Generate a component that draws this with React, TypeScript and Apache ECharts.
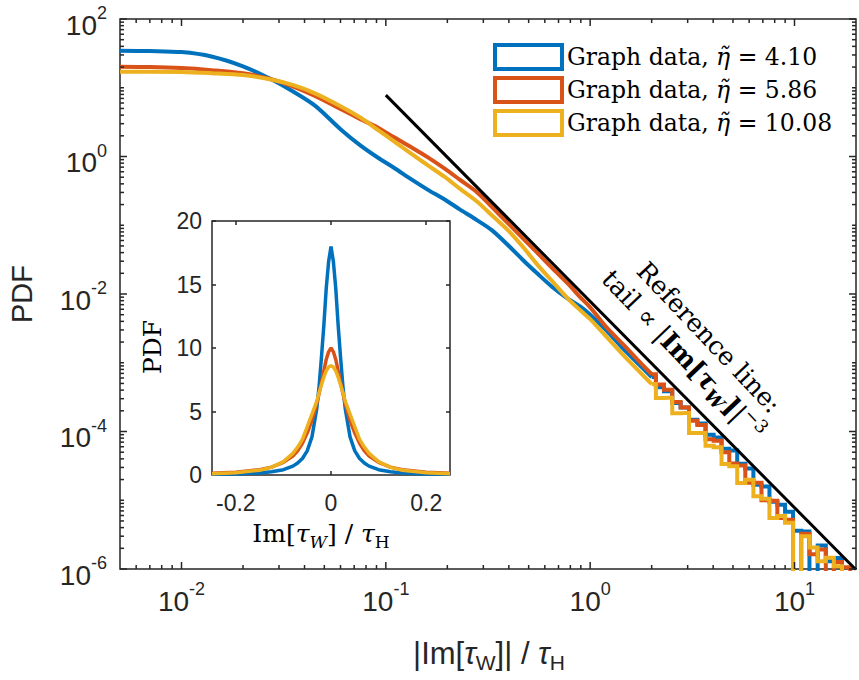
import React, { useEffect, useRef } from 'react';
import * as echarts from 'echarts';

const INK = '#262626';
const COLORS = ['#0072BD', '#D95319', '#EDB120'];
const SANS = 'Liberation Sans, Arial, sans-serif';
const SERIF = 'DejaVu Serif, Liberation Serif, serif';

const NAMES = ['Graph data, η̃ = 4.10', 'Graph data, η̃ = 5.86', 'Graph data, η̃ = 10.08'];

// |Im[tau_W]|/tau_H — smooth body of the histograms
const bodyX = [0.005, 0.007, 0.01, 0.014, 0.02, 0.027, 0.035, 0.045, 0.06, 0.075, 0.092, 0.11, 0.134, 0.16, 0.195, 0.23, 0.28, 0.33, 0.4, 0.47, 0.55, 0.65, 0.78, 0.9, 1.0, 1.2, 1.45, 1.7, 2.0];
const bodyBlue = [34.6, 34.2, 33.0, 28.5, 20.5, 13.6, 8.9, 5.5, 2.5, 1.45, 0.95, 0.68, 0.46, 0.33, 0.235, 0.17, 0.118, 0.085, 0.05, 0.031, 0.02, 0.0128, 0.0085, 0.0065, 0.005, 2.95e-3, 1.6e-3, 1.0e-3, 6.2e-4];
const bodyRed = [20.2, 20.0, 19.3, 18.0, 16.2, 13.5, 10.5, 7.6, 4.9, 3.5, 2.6, 1.9, 1.35, 0.98, 0.66, 0.46, 0.3, 0.185, 0.104, 0.064, 0.04, 0.024, 0.014, 0.0088, 0.0064, 3.3e-3, 1.85e-3, 1.12e-3, 6.8e-4];
const bodyYellow = [17.1, 17.1, 17.0, 16.3, 15.3, 13.3, 11.0, 8.3, 5.4, 3.7, 2.4, 1.65, 1.08, 0.75, 0.5, 0.34, 0.22, 0.14, 0.082, 0.048, 0.027, 0.0155, 0.0085, 0.0057, 0.0043, 2.4e-3, 1.3e-3, 8.0e-4, 4.9e-4];

// noisy power-law tail, one value per histogram bin (EMPTY = bin without counts)
const EMPTY = 1e-8;
const tailX = [2.0, 2.2, 2.4, 2.65, 2.9, 3.2, 3.5, 3.85, 4.2, 4.6, 5.0, 5.5, 6.0, 6.6, 7.2, 7.9, 8.6, 9.4, 10.3, 11.3, 12.4, 13.6, 14.9, 16.3, 17.9, 19.6];
const tailBlue = [6.2e-4, 4.4e-4, 3.84e-4, 2.6e-4, 2.24e-4, 1.48e-4, 1.31e-4, 9.0e-5, 8.2e-5, 5.6e-5, 5.3e-5, 3.4e-5, 2.9e-5, 1.68e-5, 1.59e-5, 9.5e-6, 8.6e-6, 6.8e-6, 3.6e-6, 3.5e-6, EMPTY, 2.2e-6, 1.3e-6, 1.44e-6, EMPTY, EMPTY];
const tailRed = [6.8e-4, 4.84e-4, 4.06e-4, 2.68e-4, 2.24e-4, 1.43e-4, 1.24e-4, 7.7e-5, 7.35e-5, 5.0e-5, 3.43e-5, 3.19e-5, 1.8e-5, 1.79e-5, 1.0e-5, 9.8e-6, 5.5e-6, 5.2e-6, EMPTY, 3.25e-6, 1.64e-6, 1.92e-6, EMPTY, 1.26e-6, 1.06e-6, EMPTY];
const tailYellow = [4.9e-4, 3.08e-4, 3.1e-4, 1.84e-4, 1.86e-4, 9.5e-5, 9.5e-5, 6.2e-5, 5.9e-5, 3.36e-5, 3.12e-5, 1.78e-5, 1.99e-5, 1.14e-5, 1.05e-5, 5.5e-6, 5.9e-6, 4.7e-6, EMPTY, 3.0e-6, 2.05e-6, 1.3e-6, 1.46e-6, 1.1e-6, EMPTY];

// reference power law  C * |x|^-3
const REF_C = 0.0078;
const REF_X = [0.1, 20];

// inset: signed Im[tau_W]/tau_H
const insetX = [-0.25, -0.2, -0.15, -0.125, -0.1, -0.08, -0.07, -0.06, -0.05, -0.04, -0.03, -0.025, -0.02, -0.015, -0.01, -0.005, 0, 0.005, 0.01, 0.015, 0.02, 0.025, 0.03, 0.04, 0.05, 0.06, 0.07, 0.08, 0.1, 0.125, 0.15, 0.2, 0.25];
const insetBlue = [0.05, 0.08, 0.16, 0.25, 0.42, 0.7, 0.95, 1.3, 1.9, 3.0, 5.2, 7.0, 9.3, 11.8, 14.7, 16.8, 18.0, 16.8, 14.7, 11.8, 9.3, 7.0, 5.2, 3.0, 1.9, 1.3, 0.95, 0.7, 0.42, 0.25, 0.16, 0.08, 0.05];
const insetRed = [0.13, 0.22, 0.42, 0.62, 1.0, 1.5, 1.9, 2.5, 3.3, 4.3, 5.6, 6.4, 7.3, 8.2, 9.1, 9.7, 10.0, 9.7, 9.1, 8.2, 7.3, 6.4, 5.6, 4.3, 3.3, 2.5, 1.9, 1.5, 1.0, 0.62, 0.42, 0.22, 0.13];
const insetYellow = [0.09, 0.17, 0.38, 0.6, 1.05, 1.7, 2.2, 2.8, 3.8, 4.8, 5.8, 6.5, 7.1, 7.7, 8.2, 8.5, 8.6, 8.5, 8.2, 7.7, 7.1, 6.5, 5.8, 4.8, 3.8, 2.8, 2.2, 1.7, 1.05, 0.6, 0.38, 0.17, 0.09];

const INSET_TICKS_X = [-0.2, 0, 0.2];

// main axes ranges and decade ticks
const X_MIN = 0.005, X_MAX = 20;
const Y_MIN = 1e-6, Y_MAX = 100;
const X_MAJOR = [0.01, 0.1, 1, 10];
const Y_MAJOR = [1e-6, 1e-4, 1e-2, 1, 100];

function logMinorTicks(lo: number, hi: number, majors: number[]) {
  const out: number[] = [];
  for (let k = Math.floor(Math.log10(lo)); k <= Math.ceil(Math.log10(hi)); k++) {
    for (let m = 1; m <= 9; m++) {
      const v = Number((m * Math.pow(10, k)).toPrecision(6));
      if (v <= lo * 1.0001 || v >= hi * 0.9999) continue;
      if (majors.some((t) => Math.abs(t - v) / t < 1e-6)) continue;
      out.push(v);
    }
  }
  return out;
}

const pairs = (xs: number[], ys: number[]) => ys.map((y, i) => [xs[i], y]);

function powerLabel(v: number, evenOnly: boolean) {
  const e = Math.log10(v);
  const k = Math.round(e);
  if (Math.abs(e - k) > 1e-6) return '';
  if (evenOnly && k % 2 !== 0) return '';
  return `{b|10}{s|${k}}`;
}

const powerRich = {
  b: { fontFamily: SANS, fontSize: 28, lineHeight: 42, color: INK },
  s: { fontFamily: SANS, fontSize: 18, lineHeight: 18, verticalAlign: 'top', color: INK },
};

function tickRenderer(dir: 'x' | 'y') {
  return (params: any, api: any) => {
    const cs = params.coordSys;
    const len = api.value(2);
    const style = { stroke: INK, lineWidth: 1.5 };
    if (dir === 'x') {
      const px = api.coord([api.value(0), 1])[0];
      const b = cs.y + cs.height;
      return {
        type: 'group',
        children: [
          { type: 'line', shape: { x1: px, y1: b, x2: px, y2: b - len }, style },
          { type: 'line', shape: { x1: px, y1: cs.y, x2: px, y2: cs.y + len }, style },
        ],
      };
    }
    const py = api.coord([1, api.value(1)])[1];
    const r = cs.x + cs.width;
    return {
      type: 'group',
      children: [
        { type: 'line', shape: { x1: cs.x, y1: py, x2: cs.x + len, y2: py }, style },
        { type: 'line', shape: { x1: r, y1: py, x2: r - len, y2: py }, style },
      ],
    };
  };
}

const hiddenLine = { show: false, onZero: false };
const insetTick = { inside: true, length: 4, lineStyle: { color: INK, width: 1.5 } };

export default function App() {
  const ref = useRef<HTMLDivElement>(null);

  useEffect(() => {
    if (!ref.current) return;
    const chart = echarts.init(ref.current, null, { renderer: 'svg' });

    const bodies = [bodyBlue, bodyRed, bodyYellow];
    const tails = [tailBlue, tailRed, tailYellow];
    const insets = [insetBlue, insetRed, insetYellow];

    const xMinor = logMinorTicks(X_MIN, X_MAX, X_MAJOR);
    const yMinor = logMinorTicks(Y_MIN, Y_MAX, Y_MAJOR);

    const mainSeries: any[] = [];
    COLORS.forEach((c, i) => {
      mainSeries.push({
        type: 'line', name: NAMES[i], xAxisIndex: 0, yAxisIndex: 0,
        data: pairs(bodyX, bodies[i]), smooth: 0.3, symbol: 'none', silent: true, z: 3 + i,
        lineStyle: { color: c, width: 4 }, itemStyle: { color: c },
      });
      mainSeries.push({
        type: 'line', name: NAMES[i], xAxisIndex: 0, yAxisIndex: 0,
        data: pairs(tailX, tails[i]), step: 'middle', symbol: 'none', silent: true, z: 3 + i,
        lineStyle: { color: c, width: 4, join: 'miter', cap: 'butt' }, itemStyle: { color: c },
      });
    });

    const insetSeries = COLORS.map((c, i) => ({
      type: 'line', name: 'inset-' + i, xAxisIndex: 1, yAxisIndex: 1,
      data: pairs(insetX, insets[i]), symbol: 'none', silent: true, z: 10 + i,
      lineStyle: { color: c, width: 3.5 }, itemStyle: { color: c },
    }));

    const option: any = {
      animation: false,
      grid: [
        { left: 120, top: 19, width: 738, height: 550, show: true, borderColor: INK, borderWidth: 1.5, backgroundColor: 'transparent' },
        { left: 212, top: 221, width: 238, height: 254, show: true, borderColor: INK, borderWidth: 1.5, backgroundColor: '#fff' },
      ],
      xAxis: [
        {
          gridIndex: 0, type: 'log', min: X_MIN, max: X_MAX, position: 'bottom',
          axisLine: hiddenLine, axisTick: { show: false }, splitLine: { show: false },
          axisLabel: { formatter: (v: number) => powerLabel(v, false), rich: powerRich, margin: 11 },
        },
        {
          gridIndex: 1, type: 'value', min: -0.25, max: 0.25, position: 'bottom',
          axisLine: hiddenLine, splitLine: { show: false },
          axisTick: { ...insetTick, customValues: INSET_TICKS_X },
          axisLabel: { customValues: INSET_TICKS_X, fontFamily: SANS, fontSize: 23, color: INK, margin: 16 },
        },
        {
          gridIndex: 1, type: 'value', min: -0.25, max: 0.25, position: 'top',
          axisLine: hiddenLine, splitLine: { show: false },
          axisTick: { ...insetTick, customValues: INSET_TICKS_X },
          axisLabel: { show: false },
        },
      ],
      yAxis: [
        {
          gridIndex: 0, type: 'log', min: Y_MIN, max: Y_MAX, position: 'left',
          axisLine: hiddenLine, axisTick: { show: false }, splitLine: { show: false },
          axisLabel: { formatter: (v: number) => powerLabel(v, true), rich: powerRich, margin: 13, padding: [12, 0, 0, 0] },
        },
        {
          gridIndex: 1, type: 'value', min: 0, max: 20, interval: 5, position: 'left',
          axisLine: hiddenLine, splitLine: { show: false }, axisTick: insetTick,
          axisLabel: { fontFamily: SANS, fontSize: 23, color: INK, margin: 10 },
        },
        {
          gridIndex: 1, type: 'value', min: 0, max: 20, interval: 5, position: 'right',
          axisLine: hiddenLine, splitLine: { show: false }, axisTick: insetTick,
          axisLabel: { show: false },
        },
      ],
      legend: {
        orient: 'vertical', left: 493, top: 42, padding: 0, itemGap: 3,
        itemWidth: 67, itemHeight: 24, icon: 'rect', selectedMode: false,
        data: NAMES.map((n, i) => ({ name: n, itemStyle: { color: '#fff', borderColor: COLORS[i], borderWidth: 4 } })),
        formatter: (name: string) => {
          const [a, b] = name.split('η̃');
          return `{t|${a}}{m|η̃}{t|${b}}`;
        },
        textStyle: {
          lineHeight: 30,
          rich: {
            t: { fontFamily: SERIF, fontSize: 23.5, color: '#000', lineHeight: 30 },
            m: { fontFamily: SERIF, fontSize: 23.5, fontStyle: 'italic', color: '#000', lineHeight: 30 },
          },
        },
      },
      graphic: [
        {
          type: 'text', x: 489, y: 653, silent: true,
          style: {
            text: '{a||Im[}{g|τ}{u|W}{a|]| / }{g|τ}{u|H}',
            align: 'center', verticalAlign: 'middle',
            rich: {
              a: { fontFamily: SANS, fontSize: 31, lineHeight: 40, fill: INK },
              g: { fontFamily: SANS, fontSize: 31, lineHeight: 40, fontStyle: 'italic', fill: INK },
              u: { fontFamily: SANS, fontSize: 21, lineHeight: 21, verticalAlign: 'bottom', fill: INK },
            },
          },
        },
        {
          type: 'text', x: 22, y: 294, rotation: Math.PI / 2, silent: true,
          style: { text: 'PDF', fontFamily: SANS, fontSize: 29, fill: INK, align: 'center', verticalAlign: 'middle' },
        },
        {
          type: 'text', x: 152, y: 347, rotation: Math.PI / 2, silent: true,
          style: { text: 'PDF', fontFamily: SERIF, fontSize: 25, fill: '#000', align: 'center', verticalAlign: 'middle' },
        },
        {
          type: 'text', x: 321, y: 533, silent: true,
          style: {
            text: '{r|Im[}{i|τ}{iu|W}{r|] / }{i|τ}{ru|H}',
            align: 'center', verticalAlign: 'middle',
            rich: {
              r: { fontFamily: SERIF, fontSize: 25, lineHeight: 34, fill: '#000' },
              i: { fontFamily: SERIF, fontSize: 25, lineHeight: 34, fontStyle: 'italic', fill: '#000' },
              iu: { fontFamily: SERIF, fontSize: 17, lineHeight: 17, fontStyle: 'italic', verticalAlign: 'bottom', fill: '#000' },
              ru: { fontFamily: SERIF, fontSize: 17, lineHeight: 17, verticalAlign: 'bottom', fill: '#000' },
            },
          },
        },
        {
          type: 'group', x: 695, y: 344, rotation: -0.813, silent: true,
          children: [
            {
              type: 'text', x: 5, y: -15,
              style: { text: 'Reference line:', fontFamily: SERIF, fontSize: 25.5, fill: '#000', align: 'center', verticalAlign: 'middle' },
            },
            {
              type: 'text', x: 0, y: 16,
              style: {
                text: '{r|tail ∝ |}{b|Im[}{bi|τ}{bu|W}{b|]}{r||}{s|−3}',
                align: 'center', verticalAlign: 'middle',
                rich: {
                  r: { fontFamily: SERIF, fontSize: 26, lineHeight: 34, fill: '#000' },
                  b: { fontFamily: SERIF, fontSize: 26, lineHeight: 34, fontWeight: 'bold', fill: '#000' },
                  bi: { fontFamily: SERIF, fontSize: 26, lineHeight: 34, fontWeight: 'bold', fontStyle: 'italic', fill: '#000' },
                  bu: { fontFamily: SERIF, fontSize: 18, lineHeight: 18, fontWeight: 'bold', fontStyle: 'italic', verticalAlign: 'bottom', fill: '#000' },
                  s: { fontFamily: SERIF, fontSize: 18, lineHeight: 18, verticalAlign: 'top', fill: '#000' },
                },
              },
            },
          ],
        },
      ],
      series: [
        ...mainSeries,
        {
          type: 'line', name: 'reference', xAxisIndex: 0, yAxisIndex: 0, silent: true, z: 8,
          data: REF_X.map((x) => [x, REF_C / Math.pow(x, 3)]), symbol: 'none',
          lineStyle: { color: '#000', width: 3 },
        },
        {
          type: 'custom', name: 'x-ticks', xAxisIndex: 0, yAxisIndex: 0, silent: true, z: 9,
          renderItem: tickRenderer('x'),
          data: [...X_MAJOR.map((v) => [v, 1, 7]), ...xMinor.map((v) => [v, 1, 4])],
        },
        {
          type: 'custom', name: 'y-ticks', xAxisIndex: 0, yAxisIndex: 0, silent: true, z: 9,
          renderItem: tickRenderer('y'),
          data: [...Y_MAJOR.map((v) => [1, v, 7]), ...yMinor.map((v) => [1, v, 4])],
        },
        ...insetSeries,
      ],
    };

    chart.setOption(option);
    return () => chart.dispose();
  }, []);

  return <div ref={ref} style={{ position: 'absolute', left: 0, top: 0, width: 859, height: 680 }} />;
}
